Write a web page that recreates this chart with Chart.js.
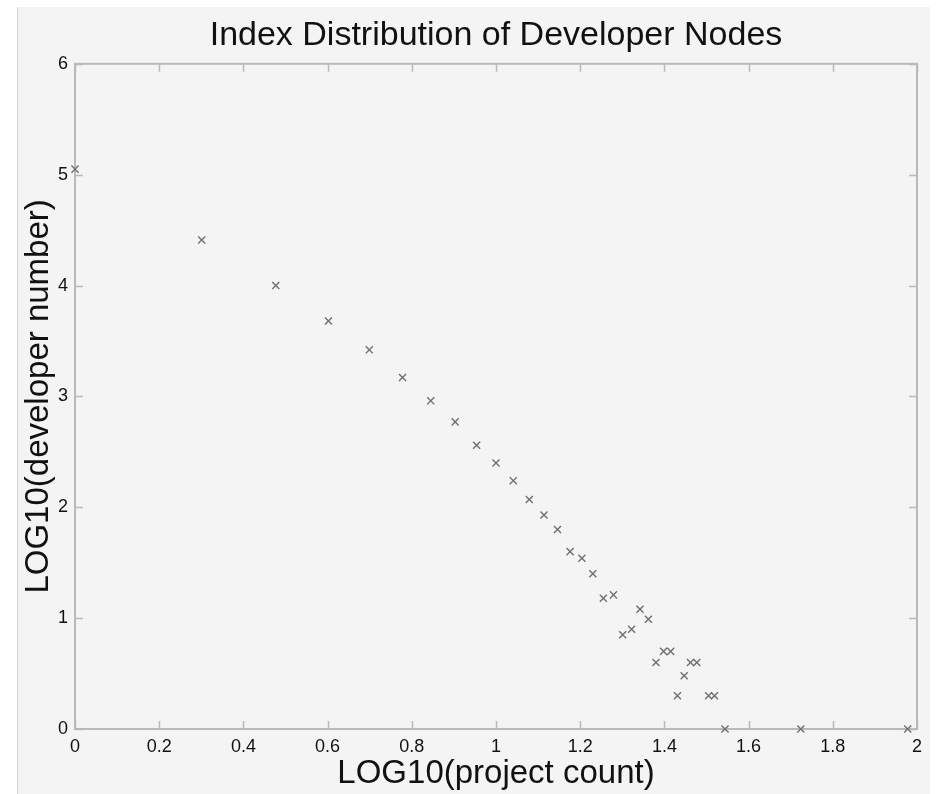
<!DOCTYPE html>
<html>
<head>
<meta charset="utf-8">
<script src="https://cdn.jsdelivr.net/npm/chart.js@4.4.1/dist/chart.umd.min.js"></script>
<style>
  html, body { margin: 0; padding: 0; background: #ffffff; }
  #wrap { width: 940px; height: 794px; }
</style>
</head>
<body>
<div id="wrap"><canvas id="chart" width="940" height="794"></canvas></div>
<script>
// LOG10(project count)
const projectLog = [0, 0.301, 0.477, 0.602, 0.699, 0.778, 0.845, 0.903, 0.954, 1.0,
    1.041, 1.079, 1.114, 1.146, 1.176, 1.204, 1.230, 1.255, 1.279, 1.301,
    1.322, 1.342, 1.362, 1.380, 1.398, 1.415, 1.431, 1.447, 1.462, 1.477,
    1.505, 1.519, 1.544, 1.724, 1.978];
// LOG10(developer number)
const developerLog = [5.05, 4.41, 4.0, 3.68, 3.42, 3.17, 2.96, 2.77, 2.56, 2.40,
    2.24, 2.07, 1.93, 1.80, 1.60, 1.54, 1.40, 1.18, 1.21, 0.85,
    0.90, 1.08, 0.99, 0.60, 0.70, 0.70, 0.30, 0.48, 0.60, 0.60,
    0.30, 0.30, 0, 0, 0];
const xTicks = [0, 0.2, 0.4, 0.6, 0.8, 1, 1.2, 1.4, 1.6, 1.8, 2];
const yTicks = [0, 1, 2, 3, 4, 5, 6];

const FONT = "'Liberation Sans', Arial, Helvetica, sans-serif";
const LINE = "#b9b9b9";

// grey figure panel behind everything
const panelBackground = {
    id: "panelBackground",
    beforeDraw(chart) {
        const ctx = chart.ctx;
        ctx.save();
        ctx.fillStyle = "#ffffff";
        ctx.fillRect(0, 0, chart.width, chart.height);
        ctx.fillStyle = "#f4f4f4";
        ctx.fillRect(17, 7, 913, 787);
        ctx.strokeStyle = "#d4d4d4";
        ctx.lineWidth = 1;
        ctx.beginPath();
        ctx.moveTo(17.5, 7);
        ctx.lineTo(17.5, 794);
        ctx.stroke();
        ctx.restore();
    }
};

// matlab style box with inward ticks on all four sides
const boxTicks = {
    id: "boxTicks",
    beforeDatasetsDraw(chart) {
        const { ctx, chartArea: a, scales: { x, y } } = chart;
        const len = 8;
        ctx.save();
        ctx.strokeStyle = LINE;
        ctx.lineWidth = 1.5;
        ctx.beginPath();
        x.ticks.forEach(t => {
            const px = Math.round(x.getPixelForValue(t.value)) + 0.5;
            ctx.moveTo(px, a.bottom);
            ctx.lineTo(px, a.bottom - len);
            ctx.moveTo(px, a.top);
            ctx.lineTo(px, a.top + len);
        });
        y.ticks.forEach(t => {
            const py = Math.round(y.getPixelForValue(t.value)) + 0.5;
            ctx.moveTo(a.left, py);
            ctx.lineTo(a.left + len, py);
            ctx.moveTo(a.right, py);
            ctx.lineTo(a.right - len, py);
        });
        ctx.stroke();
        ctx.lineWidth = 2;
        ctx.strokeRect(a.left, a.top, a.right - a.left, a.bottom - a.top);
        ctx.restore();
    }
};

const fmt = v => String(Number(v.toFixed(1)));

new Chart(document.getElementById("chart"), {
    type: "scatter",
    data: {
        datasets: [{
            data: projectLog.map((x, i) => ({ x, y: developerLog[i] })),
            pointStyle: "crossRot",
            pointRadius: 5,
            pointHoverRadius: 5,
            borderColor: "#6f6f6f",
            backgroundColor: "#6f6f6f",
            pointBorderWidth: 1.4,
            clip: false
        }]
    },
    options: {
        responsive: false,
        animation: false,
        devicePixelRatio: 1,
        layout: { padding: { left: 17, right: 23, top: 7, bottom: 0 } },
        plugins: {
            legend: { display: false },
            tooltip: { enabled: false },
            title: {
                display: true,
                fullSize: false,
                text: "Index Distribution of Developer Nodes",
                color: "#111111",
                font: { family: FONT, size: 34, weight: "normal" },
                padding: { top: 8, bottom: 8 }
            }
        },
        scales: {
            x: {
                type: "linear",
                min: 0,
                max: 2,
                afterBuildTicks: s => { s.ticks = xTicks.map(v => ({ value: v })); },
                afterFit: s => { s.height = 65; },
                ticks: {
                    callback: v => fmt(v),
                    color: "#111111",
                    font: { family: FONT, size: 18 },
                    padding: 7,
                    maxRotation: 0,
                    autoSkip: false
                },
                grid: { display: false, drawTicks: false },
                border: { display: false },
                title: {
                    display: true,
                    text: "LOG10(project count)",
                    color: "#111111",
                    font: { family: FONT, size: 33 },
                    padding: { top: 0, bottom: 0 }
                }
            },
            y: {
                type: "linear",
                min: 0,
                max: 6,
                afterBuildTicks: s => { s.ticks = yTicks.map(v => ({ value: v })); },
                afterFit: s => { s.width = 58; },
                ticks: {
                    callback: v => fmt(v),
                    color: "#111111",
                    font: { family: FONT, size: 18 },
                    padding: 7,
                    autoSkip: false
                },
                grid: { display: false, drawTicks: false },
                border: { display: false },
                title: {
                    display: true,
                    text: "LOG10(developer number)",
                    color: "#111111",
                    font: { family: FONT, size: 33 },
                    padding: { top: 2, bottom: 0 }
                }
            }
        }
    },
    plugins: [panelBackground, boxTicks]
});
</script>
</body>
</html>
